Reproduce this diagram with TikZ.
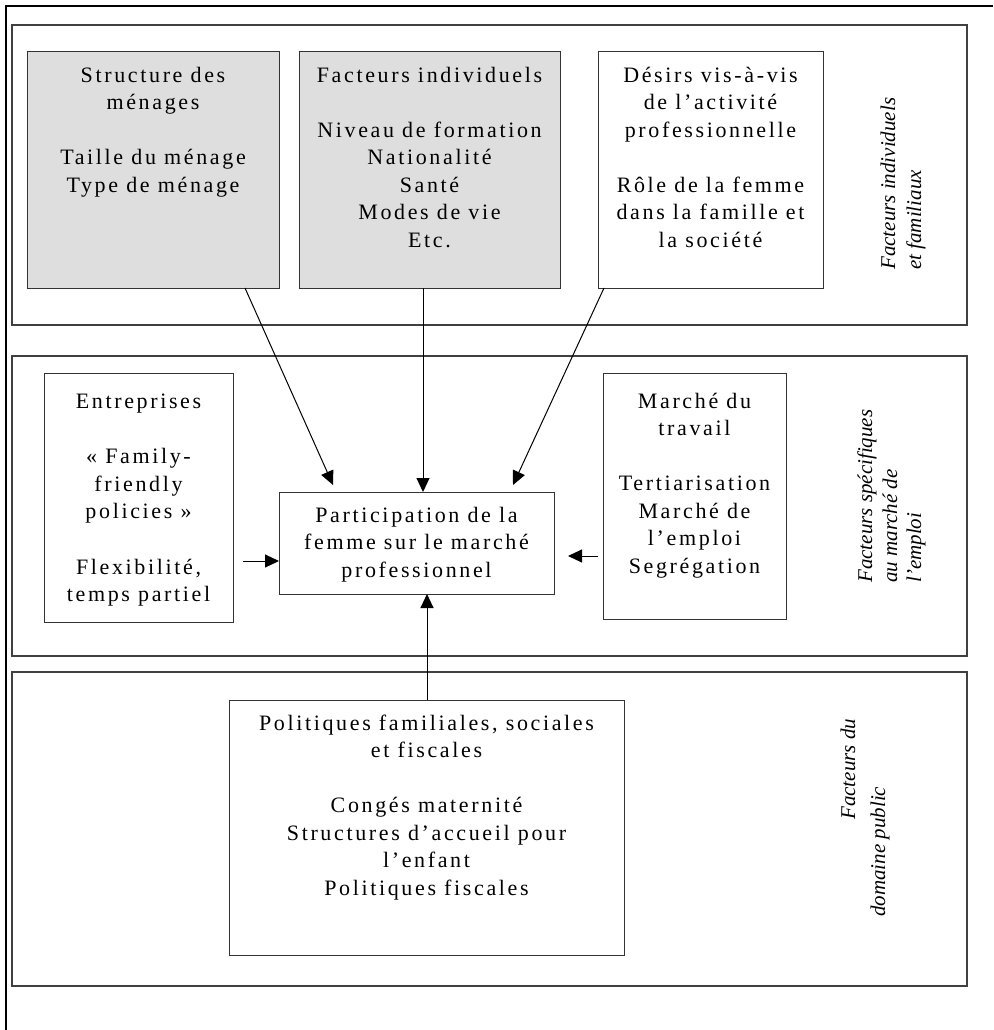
\documentclass[tikz,border=0pt]{standalone}
\usepackage{fontspec}
\setmainfont{Liberation Serif}
\newfontfamily\bxfont{Liberation Serif}[LetterSpace=12]
\usetikzlibrary{arrows.meta,calc}
\newcommand\bxt[4][30pt]{\parbox[c][#3][t]{#2}{\centering\bxfont\fontsize{22pt}{27.5pt}\selectfont\rule{0pt}{#1}#4\par}}
\begin{document}
\begin{tikzpicture}[x=1pt,y=-1pt,
  panel/.style={draw=black!75,line width=1.3pt},
  box/.style={draw=black!80,line width=1pt,inner sep=0pt,outer sep=0pt},
  gbox/.style={box,fill=black!13},
  arrow/.style={-{Triangle[length=14pt,width=13pt]},line width=1pt},
  lab/.style={rotate=90,anchor=base west,inner sep=0pt,font=\fontsize{21pt}{24pt}\selectfont\itshape}]
\useasboundingbox (0,0) rectangle (993,1030);
% outer frame
\draw[line width=2pt] (993,6) -- (6,6) -- (6,1030);
% panels
\draw[panel] (12,25) rectangle (967,325);
\draw[panel] (12,356) rectangle (967,656);
\draw[panel] (12,672) rectangle (967,986);
% boxes
\node[gbox] (A) at (153,170) {\bxt{252pt}{236pt}{Structure des\\ménages\\[27.5pt]Taille du ménage\\Type de ménage}};
\node[gbox] (B) at (429.5,170) {\bxt{261pt}{236pt}{Facteurs individuels\\[27.5pt]Niveau de formation\\Nationalité\\Santé\\Modes de vie\\Etc.}};
\node[box] (C) at (710.5,170) {\bxt{225pt}{236pt}{Désirs vis-à-vis\\de l’activité\\professionnelle\\[27.5pt]Rôle de la femme\\dans la famille et\\la société}};
\node[box] (E) at (138.5,497.5) {\bxt[35pt]{189pt}{249pt}{Entreprises\\[28pt]«~Family-\\friendly\\policies~»\\[28pt]Flexibilité,\\temps partiel}};
\node[box] (M) at (694.5,496) {\bxt[35pt]{183pt}{246pt}{Marché du\\travail\\[27.5pt]Tertiarisation\\Marché de\\l’emploi\\Segrégation}};
\node[box] (P) at (416.5,543) {\bxt{275pt}{102pt}{Participation de la\\femme sur le marché\\professionnel}};
\node[box] (G) at (426.5,827.5) {\bxt{395pt}{255pt}{Politiques familiales, sociales\\et fiscales\\[27.5pt]Congés maternité\\Structures d’accueil pour\\l’enfant\\Politiques fiscales}};
% arrows
\draw[arrow] ([xshift=-34pt]A.south east) -- ([xshift=54pt,yshift=7pt]P.north west);
\draw[arrow] ([xshift=-6.5pt]B.south) coordinate (b1) -- (b1 |- P.north);
\draw[arrow] ([xshift=6pt]C.south west) -- ([xshift=-41pt,yshift=7pt]P.north east);
\draw[arrow] ([xshift=10pt,yshift=-63.5pt]E.east) coordinate (e1) -- (e1 -| P.west);
\draw[arrow] ([xshift=-5pt,yshift=-60pt]M.west) coordinate (m1) -- ($(P.east |- m1)+(14,0)$);
\draw[arrow] ([xshift=0.5pt]G.north) coordinate (g1) -- (g1 |- P.south);
% side labels
\node[lab] (l1a) at (895,270) {Facteurs individuels};
\node[lab] (l1b) at (921,270) {et familiaux};
\node[lab] (l2a) at (872,583) {Facteurs spécifiques};
\node[lab] (l2b) at (897,583) {au marché de};
\node[lab] (l2c) at (921,583) {l’emploi};
\node[lab] (l3a) at (855,820) {Facteurs du};
\node[lab] (l3b) at (885,917) {domaine public};
\end{tikzpicture}
\end{document}
